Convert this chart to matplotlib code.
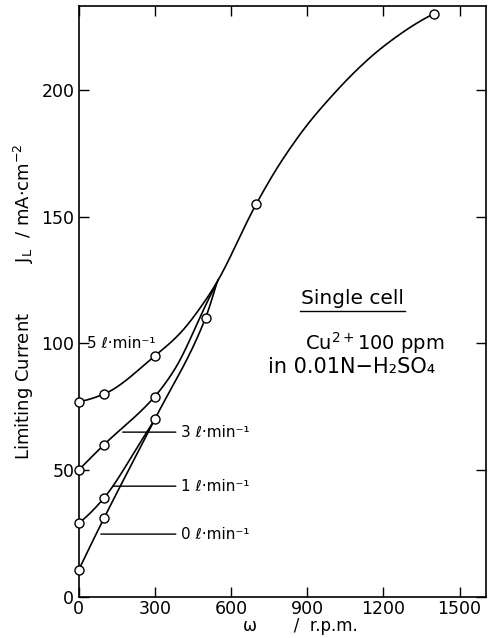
import numpy as np
import matplotlib
matplotlib.use("Agg")
import matplotlib.pyplot as plt

# ---- data ----
# measured points (rpm, limiting current mA/cm2)
rpm_5 = [0, 100, 300]
J_5 = [77, 80, 95]
rpm_3 = [0, 100, 300]
J_3 = [50, 60, 79]
rpm_1 = [0, 100]
J_1 = [29, 39]
rpm_0 = [0, 100, 300, 500]
J_0 = [10.5, 31, 70, 110]
rpm_common = [700, 1400]
J_common = [155, 230]

# traced points of the drawn curves between the markers
trace5_rpm = [400, 500, 550]
trace5_J = [104, 117, 125]
trace3_rpm = [380, 510, 550]
trace3_J = [90, 117, 125]
trace1_rpm = [250, 300]
trace1_J = [62, 70]
trace0_rpm = [545]
trace0_J = [124]
main_rpm = [700, 810, 940, 1200, 1400]
main_J = [155, 173.5, 191, 217, 230]

x_ticks = [0, 300, 600, 900, 1200, 1500]
y_ticks = [0, 50, 100, 150, 200]
flow_labels = ["5 ℓ·min⁻¹", "3 ℓ·min⁻¹", "1 ℓ·min⁻¹", "0 ℓ·min⁻¹"]


def pchip(xs, ys, n=400):
    x = np.asarray(xs, float)
    y = np.asarray(ys, float)
    h = np.diff(x)
    d = np.diff(y) / h
    m = np.zeros_like(x)
    for k in range(1, len(x) - 1):
        if d[k - 1] * d[k] > 0:
            w1 = 2 * h[k] + h[k - 1]
            w2 = h[k] + 2 * h[k - 1]
            m[k] = (w1 + w2) / (w1 / d[k - 1] + w2 / d[k])
    m[0] = d[0]
    m[-1] = d[-1]
    if len(x) > 2:
        m[0] = ((2 * h[0] + h[1]) * d[0] - h[0] * d[1]) / (h[0] + h[1])
        if np.sign(m[0]) != np.sign(d[0]):
            m[0] = 0
        m[-1] = ((2 * h[-1] + h[-2]) * d[-1] - h[-1] * d[-2]) / (h[-1] + h[-2])
        if np.sign(m[-1]) != np.sign(d[-1]):
            m[-1] = 0
    xx = np.linspace(x[0], x[-1], n)
    idx = np.clip(np.searchsorted(x, xx) - 1, 0, len(x) - 2)
    t = (xx - x[idx]) / h[idx]
    h00 = 2 * t ** 3 - 3 * t ** 2 + 1
    h10 = t ** 3 - 2 * t ** 2 + t
    h01 = -2 * t ** 3 + 3 * t ** 2
    h11 = t ** 3 - t ** 2
    yy = h00 * y[idx] + h10 * h[idx] * m[idx] + h01 * y[idx + 1] + h11 * h[idx] * m[idx + 1]
    return xx, yy


fig = plt.figure(figsize=(4.9, 6.38), dpi=100)
ax = fig.add_axes([78.5 / 490, 1 - 597 / 638, (485.7 - 78.5) / 490, (597 - 6) / 638])

lw = 1.2
x, y = pchip(rpm_5 + trace5_rpm + main_rpm, J_5 + trace5_J + main_J)
ax.plot(x, y, color="black", lw=lw, zorder=2)
x, y = pchip(rpm_3 + trace3_rpm, J_3 + trace3_J)
ax.plot(x, y, color="black", lw=lw, zorder=2)
x, y = pchip(rpm_1 + trace1_rpm, J_1 + trace1_J)
ax.plot(x, y, color="black", lw=lw, zorder=2)
x, y = pchip(rpm_0 + trace0_rpm, J_0 + trace0_J)
ax.plot(x, y, color="black", lw=lw, zorder=2)

mk = dict(ls="none", marker="o", ms=6.5, mfc="white", mec="black", mew=1.0,
          zorder=4, clip_on=False)
for xs, ys in [(rpm_5, J_5), (rpm_3, J_3), (rpm_1, J_1), (rpm_0, J_0),
               (rpm_common, J_common)]:
    ax.plot(xs, ys, **mk)

ax.set_xlim(0, 1603)
ax.set_ylim(0, 233)
ax.set_xticks(x_ticks)
ax.set_yticks(y_ticks)
ax.tick_params(direction="in", length=7, width=1, top=True, right=True,
               labelsize=12.5, pad=3)
ax.tick_params(axis="x", pad=2)
for s in ax.spines.values():
    s.set_linewidth(1.2)

ax.set_xlabel("ω       /  r.p.m.", fontsize=12)
ax.xaxis.set_label_coords((300 - 78.5) / 407.2, -0.033)
ax.set_ylabel("Limiting Current         J$_{\\mathsf{L}}$  / mA·cm$^{-2}$", fontsize=13)
ax.yaxis.set_label_coords(-0.105, 0.5)

# flow-rate labels
ax.text(33, 100, flow_labels[0], fontsize=11, va="center", ha="left")
leader = dict(arrowstyle="-", color="black", lw=1.0)
for lab, (xa, ya) in zip(flow_labels[1:], [(163, 65), (124, 43.7), (77, 24.8)]):
    ax.annotate(lab, xy=(xa, ya), xytext=(405, ya), fontsize=11,
                va="center", ha="left", arrowprops=leader)

# right-hand annotations
ax.text(1078, 117.5, "Single cell", fontsize=14.5, ha="center", va="center")
ax.plot([872, 1285], [112.6, 112.6], color="black", lw=1.0)
ax.text(1165, 100, "Cu$^{2+}$100 ppm", fontsize=14, ha="center", va="center")
ax.text(1075, 90.5, "in 0.01N−H₂SO₄", fontsize=15, ha="center", va="center")

fig.savefig("out.png", dpi=100)
